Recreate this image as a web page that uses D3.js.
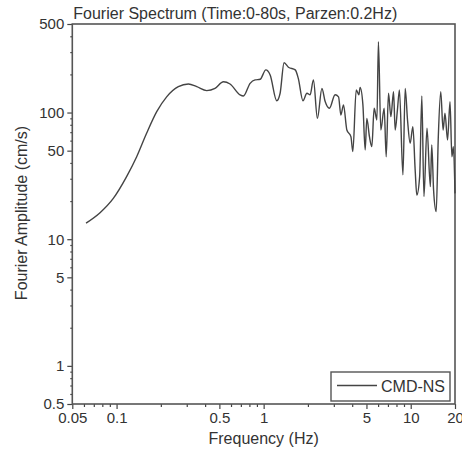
<!DOCTYPE html>
<html>
<head>
<script src="https://cdn.jsdelivr.net/npm/d3@7"></script>
<style>
  body { margin: 0; background: #fff; }
  text { font-family: "Liberation Sans", Arial, sans-serif; fill: #333; }
</style>
</head>
<body>
<div id="chart"></div>
<script>

// spectrum (Hz, cm/s)
var freq = [0.0620, 0.0772, 0.0950, 0.117, 0.137, 0.160, 0.1875, 0.219, 0.263, 0.308,
            0.351, 0.410, 0.467, 0.533, 0.591, 0.691, 0.728, 0.809, 0.875, 0.946,
            1.035, 1.107, 1.228, 1.294, 1.377, 1.473, 1.64, 1.72, 1.85, 1.97,
            2.07, 2.18, 2.32, 2.49, 2.62, 2.80, 3.06, 3.23, 3.35, 3.49,
            3.68, 3.92, 4.04, 4.26, 4.44, 4.53, 4.73, 4.90, 5.03, 5.24,
            5.44, 5.64, 5.89, 6.03, 6.26, 6.60, 6.81, 7.06, 7.33, 7.64,
            7.84, 8.12, 8.38, 8.85, 9.17, 9.51, 9.91, 10.34, 10.72, 11.0,
            11.5, 11.9, 12.3, 12.9, 13.6, 13.9, 14.3, 14.9, 15.4, 16.0,
            16.6, 17.1, 17.8, 18.5, 19.05, 19.5, 20];
var amp  = [13.4, 16.2, 21.0, 31.2, 44.8, 68.6, 101.6, 133, 160, 168,
            160, 149, 155, 175, 168, 138, 135, 170, 181, 183,
            217, 198, 124, 142, 247, 228, 217, 186, 124, 142,
            138, 181, 90, 155, 122, 108, 138, 133, 95.6, 115,
            72.8, 64.5, 49.1, 151, 138, 158, 115, 50.7, 90, 64.5,
            53.8, 108, 87.4, 362, 72.8, 108, 44.8, 142, 92.8, 146,
            72.8, 105, 151, 32.2, 155, 87.4, 57.2, 77.3, 35.2, 22.3,
            31.2, 135, 21.7, 75.2, 26.0, 55.4, 24.5, 16.5, 64.5, 146,
            72.8, 98.6, 60.7, 122, 44.8, 53.8, 23.0];

var xMajor = [0.05, 0.1, 0.5, 1, 5, 10, 20];
var xMinor = [0.06, 0.07, 0.08, 0.09, 0.2, 0.3, 0.4, 0.6, 0.7, 0.8, 0.9,
              2, 3, 4, 6, 7, 8, 9];
var yMajor = [0.5, 1, 5, 10, 50, 100, 500];
var yMinor = [0.6, 0.7, 0.8, 0.9, 2, 3, 4, 6, 7, 8, 9, 20, 30, 40,
              60, 70, 80, 90, 200, 300, 400];

var title = "Fourier Spectrum (Time:0-80s, Parzen:0.2Hz)";
var seriesName = "CMD-NS";

var W = 462, H = 449;
var margin = {left: 72.3, right: 455, top: 24, bottom: 404};

var svg = d3.select("#chart").append("svg")
    .attr("width", W)
    .attr("height", H);

var x = d3.scaleLog().domain([0.05, 20]).range([margin.left, margin.right]);
var y = d3.scaleLog().domain([0.5, 500]).range([margin.bottom, margin.top]);

// minor ticks first, then labelled major ticks
svg.append("g")
    .attr("transform", "translate(0," + margin.bottom + ")")
    .call(d3.axisBottom(x).tickValues(xMinor).tickSize(3).tickFormat(""))
    .call(function(g) { g.select(".domain").remove(); });
svg.append("g")
    .attr("transform", "translate(0," + margin.bottom + ")")
    .call(d3.axisBottom(x).tickValues(xMajor).tickSize(5).tickPadding(3)
          .tickFormat(function(d) { return String(d); }))
    .call(function(g) { g.select(".domain").remove(); })
    .selectAll("text").style("font-size", "15px");

svg.append("g")
    .attr("transform", "translate(" + margin.left + ",0)")
    .call(d3.axisLeft(y).tickValues(yMinor).tickSize(2).tickFormat(""))
    .call(function(g) { g.select(".domain").remove(); });
svg.append("g")
    .attr("transform", "translate(" + margin.left + ",0)")
    .call(d3.axisLeft(y).tickValues(yMajor).tickSize(5).tickPadding(3)
          .tickFormat(function(d) { return String(d); }))
    .call(function(g) { g.select(".domain").remove(); })
    .selectAll("text").style("font-size", "15px");

svg.selectAll(".tick line").attr("stroke", "#444").attr("stroke-width", 1.2);

// frame
svg.append("rect")
    .attr("x", margin.left).attr("y", margin.top)
    .attr("width", margin.right - margin.left)
    .attr("height", margin.bottom - margin.top)
    .attr("fill", "none")
    .attr("stroke", "#555")
    .attr("stroke-width", 1.6);

// curve
var pts = freq.map(function(f, i) { return [f, amp[i]]; });
svg.append("path")
    .datum(pts)
    .attr("fill", "none")
    .attr("stroke", "#444")
    .attr("stroke-width", 1.4)
    .attr("stroke-linejoin", "round")
    .attr("d", d3.line()
        .x(function(d) { return x(d[0]); })
        .y(function(d) { return y(d[1]); })
        .curve(d3.curveMonotoneX));

// titles
svg.append("text")
    .attr("x", margin.left + 1).attr("y", 19)
    .style("font-size", "16px")
    .text(title);

svg.append("text")
    .attr("x", (margin.left + margin.right) / 2).attr("y", 444)
    .attr("text-anchor", "middle")
    .style("font-size", "16px")
    .text("Frequency (Hz)");

svg.append("text")
    .attr("transform", "translate(27,213) rotate(-90)")
    .attr("text-anchor", "middle")
    .style("font-size", "16px")
    .text("Fourier Amplitude (cm/s)");

// legend
var lg = svg.append("g");
lg.append("rect")
    .attr("x", 331).attr("y", 372)
    .attr("width", 119).attr("height", 29)
    .attr("fill", "#fff")
    .attr("stroke", "#555")
    .attr("stroke-width", 1.4);
lg.append("line")
    .attr("x1", 337).attr("x2", 377)
    .attr("y1", 385.5).attr("y2", 385.5)
    .attr("stroke", "#444")
    .attr("stroke-width", 1.4);
lg.append("text")
    .attr("x", 381).attr("y", 392)
    .style("font-size", "16px")
    .text(seriesName);

</script>
</body>
</html>
